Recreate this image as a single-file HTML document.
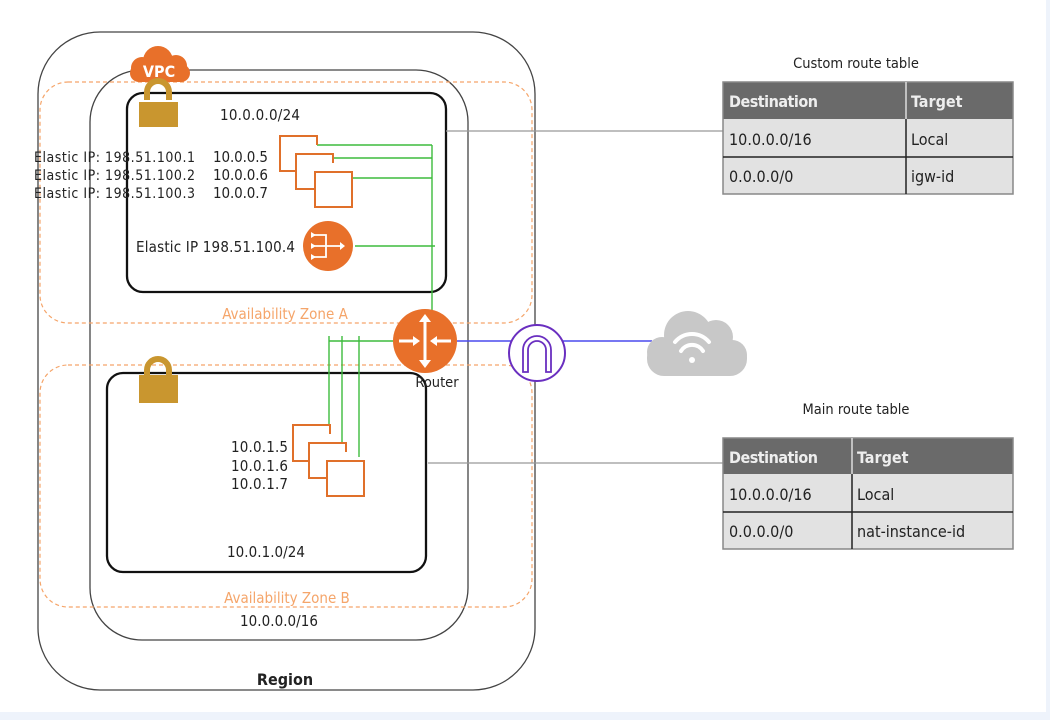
<!DOCTYPE html>
<html><head><meta charset="utf-8"><style>
html,body{margin:0;padding:0;background:#fff;}
svg{display:block;font-family:"DejaVu Sans Condensed","DejaVu Sans","Liberation Sans",sans-serif;}
</style></head><body>
<svg width="1050" height="720" viewBox="0 0 1050 720" xmlns="http://www.w3.org/2000/svg">
<rect x="0" y="0" width="1050" height="720" fill="#fff"/>
<rect x="0" y="712" width="1050" height="8" fill="#eef3fb"/>
<rect x="1046" y="0" width="4" height="720" fill="#eef3fb"/>
<rect x="38" y="32" width="497" height="658" rx="62" fill="none" stroke="#444" stroke-width="1.3"/>
<rect x="90" y="70" width="378" height="570" rx="52" fill="none" stroke="#444" stroke-width="1.3"/>
<rect x="40" y="82" width="492" height="241" rx="28" fill="none" stroke="#f5a56a" stroke-width="1.2" stroke-dasharray="4,3"/>
<rect x="40" y="365" width="492" height="242" rx="28" fill="none" stroke="#f5a56a" stroke-width="1.2" stroke-dasharray="4,3"/>
<rect x="127" y="93" width="319" height="199" rx="16" fill="none" stroke="#111" stroke-width="2.3"/>
<rect x="107" y="373" width="319" height="199" rx="16" fill="none" stroke="#111" stroke-width="2.3"/>
<line x1="446" y1="131" x2="723" y2="131" stroke="#999" stroke-width="1.3"/>
<line x1="428" y1="463" x2="723" y2="463" stroke="#999" stroke-width="1.3"/>
<g fill="#e8702a">
<circle cx="158" cy="61" r="15"/><circle cx="142" cy="68" r="11"/><circle cx="176" cy="66" r="11"/>
<rect x="130" y="64" width="60" height="18" rx="9"/>
</g>
<text x="159" y="77" font-size="16" font-weight="bold" fill="#fff" text-anchor="middle">VPC</text>
<g>
<path d="M147 100 v-8 a11 11 0 0 1 22 0 v8" fill="none" stroke="#c9962f" stroke-width="6"/>
<rect x="139" y="102" width="39" height="25" fill="#c9962f"/>
<path d="M147 376 v-6 a11 11 0 0 1 22 0 v6" fill="none" stroke="#c9962f" stroke-width="6"/>
<rect x="139" y="375" width="39" height="28" fill="#c9962f"/>
</g>
<g stroke="#3dbb3d" stroke-width="1.4" fill="none">
<line x1="432" y1="145" x2="432" y2="312"/>
<line x1="317" y1="145" x2="432" y2="145"/>
<line x1="333" y1="158" x2="432" y2="158"/>
<line x1="342" y1="178" x2="432" y2="178"/>
<line x1="355" y1="246" x2="435" y2="246"/>
<line x1="329" y1="341" x2="395" y2="341"/>
<line x1="329" y1="336" x2="329" y2="425"/>
<line x1="342" y1="336" x2="342" y2="443"/>
<line x1="359" y1="336" x2="359" y2="457"/>
</g>
<g fill="#fff" stroke="#e0702a" stroke-width="2">
<path d="M296 171 h-16 v-35 h37 v9"/>
<path d="M315 189 h-19 v-35 h37 v9"/>
<rect x="315" y="172" width="37" height="35"/>
<path d="M309 461 h-16 v-36 h37 v9"/>
<path d="M327 478 h-18 v-35 h37 v9"/>
<rect x="327" y="461" width="37" height="35"/>
</g>
<circle cx="328" cy="246" r="25" fill="#e8702a"/>
<g stroke="#fff" stroke-width="1.8" fill="none">
<path d="M314 235 h12 v22 h-12 M314 246 h26"/>
</g>
<g fill="#fff"><path d="M311 232 l5 3 -5 3z M311 243 l5 3 -5 3z M311 254 l5 3 -5 3z M340 242 l5 4 -5 4z"/></g>
<circle cx="425" cy="341" r="32" fill="#e8702a"/>
<g stroke="#fff" stroke-width="3" fill="#fff">
<line x1="425" y1="320" x2="425" y2="362"/>
<line x1="399" y1="341" x2="415" y2="341"/>
<line x1="435" y1="341" x2="451" y2="341"/>
</g>
<g fill="#fff">
<path d="M419 322 l6 -8 6 8z M419 360 l6 8 6 -8z M413 336 l7 5 -7 5z M437 336 l-7 5 7 5z"/>
</g>
<text x="437" y="387" font-size="14.5" fill="#222" text-anchor="middle">Router</text>
<line x1="457" y1="341" x2="652" y2="341" stroke="#4a4aee" stroke-width="1.6"/>
<circle cx="537" cy="353" r="28" fill="#fff" stroke="#6a2fc0" stroke-width="2"/>
<path d="M523 372 v-22 a14 14 0 0 1 28 0 v22 h-5 v-22 a9 9 0 0 0 -18 0 v22z" fill="none" stroke="#6a2fc0" stroke-width="1.8"/>
<g fill="#c8c8c8">
<circle cx="688" cy="335" r="24"/><circle cx="716" cy="337" r="17"/><circle cx="662" cy="352" r="15"/><circle cx="732" cy="355" r="15"/>
<rect x="647" y="340" width="100" height="36" rx="17"/>
</g>
<g fill="none" stroke="#fff" stroke-width="4" stroke-linecap="round">
<path d="M675 342 a22 22 0 0 1 34 0"/><path d="M681 351 a13 13 0 0 1 22 0"/>
</g>
<circle cx="692" cy="360" r="3" fill="#fff"/>
<g font-size="15" fill="#222">
<text x="220" y="120" textLength="80">10.0.0.0/24</text>
<text x="34" y="162" font-size="14" textLength="161">Elastic IP: 198.51.100.1</text>
<text x="34" y="180" font-size="14" textLength="161">Elastic IP: 198.51.100.2</text>
<text x="34" y="198" font-size="14" textLength="161">Elastic IP: 198.51.100.3</text>
<text x="213" y="162" textLength="55">10.0.0.5</text>
<text x="213" y="180" textLength="55">10.0.0.6</text>
<text x="213" y="198" textLength="55">10.0.0.7</text>
<text x="136" y="252" textLength="159">Elastic IP 198.51.100.4</text>
<text x="231" y="452" textLength="57">10.0.1.5</text>
<text x="231" y="471" textLength="57">10.0.1.6</text>
<text x="231" y="489" textLength="57">10.0.1.7</text>
<text x="227" y="557" textLength="78">10.0.1.0/24</text>
<text x="240" y="626" textLength="78">10.0.0.0/16</text>
<text x="285" y="685" font-weight="bold" font-size="16" text-anchor="middle">Region</text>
</g>
<text x="285" y="319" font-size="15" fill="#f5a56a" text-anchor="middle">Availability Zone A</text>
<text x="287" y="603" font-size="15" fill="#f5a56a" text-anchor="middle">Availability Zone B</text>
<text x="856" y="68" font-size="14.5" fill="#222" text-anchor="middle">Custom route table</text>
<rect x="723" y="82" width="290" height="37" fill="#6a6a6a"/>
<rect x="723" y="119" width="290" height="75" fill="#e2e2e2"/>
<rect x="723" y="82" width="290" height="112" fill="none" stroke="#888" stroke-width="1.5"/>
<line x1="723" y1="157" x2="1013" y2="157" stroke="#222" stroke-width="1.5"/>
<line x1="906" y1="82" x2="906" y2="119" stroke="#ddd" stroke-width="1.5"/>
<line x1="906" y1="119" x2="906" y2="194" stroke="#222" stroke-width="1.5"/>
<g font-size="16">
<text x="729" y="107" fill="#eee" font-weight="bold" textLength="89">Destination</text>
<text x="911" y="107" fill="#eee" font-weight="bold">Target</text>
<text x="729" y="145" fill="#222">10.0.0.0/16</text>
<text x="911" y="145" fill="#222">Local</text>
<text x="729" y="182" fill="#222">0.0.0.0/0</text>
<text x="911" y="182" fill="#222">igw-id</text>
</g>
<text x="856" y="414" font-size="14.5" fill="#222" text-anchor="middle">Main route table</text>
<rect x="723" y="438" width="290" height="36" fill="#6a6a6a"/>
<rect x="723" y="474" width="290" height="75" fill="#e2e2e2"/>
<rect x="723" y="438" width="290" height="111" fill="none" stroke="#888" stroke-width="1.5"/>
<line x1="723" y1="512" x2="1013" y2="512" stroke="#222" stroke-width="1.5"/>
<line x1="852" y1="438" x2="852" y2="474" stroke="#ddd" stroke-width="1.5"/>
<line x1="852" y1="474" x2="852" y2="549" stroke="#222" stroke-width="1.5"/>
<g font-size="16">
<text x="729" y="463" fill="#eee" font-weight="bold" textLength="89">Destination</text>
<text x="857" y="463" fill="#eee" font-weight="bold">Target</text>
<text x="729" y="500" fill="#222">10.0.0.0/16</text>
<text x="857" y="500" fill="#222">Local</text>
<text x="729" y="537" fill="#222">0.0.0.0/0</text>
<text x="857" y="537" fill="#222">nat-instance-id</text>
</g>
</svg>
</body></html>
